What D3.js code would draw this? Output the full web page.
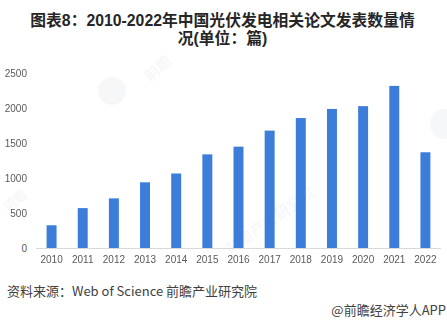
<!DOCTYPE html>
<html>
<head>
<meta charset="utf-8">
<script src="https://cdn.jsdelivr.net/npm/d3@7"></script>
<style>
  html, body { margin: 0; padding: 0; background: #fff; }
  svg { display: block; }
</style>
</head>
<body>
<div id="chart"></div>
<script>
// 2010-2022 中国光伏发电相关论文发表数量（篇）
const years = ["2010", "2011", "2012", "2013", "2014", "2015", "2016", "2017", "2018", "2019", "2020", "2021", "2022"];
const papers = [325, 571, 710, 940, 1066, 1340, 1450, 1680, 1860, 1990, 2030, 2320, 1370];
const yTicks = [0, 500, 1000, 1500, 2000, 2500];

const titleLines = ["图表8：2010-2022年中国光伏发电相关论文发表数量情", "况(单位：篇)"];
const sourceText = "资料来源：Web of Science 前瞻产业研究院";
const brandText = "@前瞻经济学人APP";

const W = 447, H = 324;
const plot = { left: 36, right: 441, top: 73.3, bottom: 248 };

const svg = d3.select("#chart").append("svg")
  .attr("width", W).attr("height", H)
  .style("font-family", "'Liberation Sans', Arial, 'Noto Sans CJK SC', sans-serif");

// faint background watermarks
const wm = svg.append("g").attr("opacity", 0.04).attr("fill", "#1a3f6b");
wm.append("circle").attr("cx", 112).attr("cy", 91).attr("r", 14);
wm.append("circle").attr("cx", 445).attr("cy", 124).attr("r", 15);
wm.append("text").attr("transform", "translate(150,82) rotate(-40)")
  .attr("font-size", 15).attr("font-weight", "bold").text("前瞻");
wm.append("text").attr("transform", "translate(230,255) rotate(-35)")
  .attr("font-size", 15).attr("font-weight", "bold").text("前瞻产业研究院");
wm.append("text").attr("transform", "translate(8,212) rotate(-40)")
  .attr("font-size", 13).attr("font-weight", "bold").text("前瞻");

// title (two lines)
svg.append("g").selectAll("text").data(titleLines).join("text")
  .attr("x", 222.5)
  .attr("y", (d, i) => 26 + i * 17.8)
  .attr("text-anchor", "middle")
  .attr("font-size", 15.8)
  .attr("font-weight", "bold")
  .attr("fill", "#262626")
  .style("font-family", "'Liberation Sans', Arial, 'Noto Sans CJK SC', sans-serif")
  .text(d => d);

const x = d3.scaleBand().domain(years).range([plot.left, plot.right]).paddingInner(0.68).paddingOuter(0.34);
const y = d3.scaleLinear().domain([0, 2500]).range([plot.bottom, plot.top]);

// y axis labels (no line)
const yAxis = svg.append("g").attr("transform", `translate(${plot.left - 9},0)`)
  .call(d3.axisLeft(y).tickValues(yTicks).tickSize(0).tickPadding(0).tickFormat(d3.format("d")));
yAxis.select(".domain").remove();
yAxis.selectAll("text").attr("font-size", 10).attr("fill", "#595959")
  .style("font-family", "'Liberation Sans', Arial, sans-serif");

// bars
svg.append("g").selectAll("rect").data(years).join("rect")
  .attr("x", d => x(d))
  .attr("width", x.bandwidth())
  .attr("y", (d, i) => y(papers[i]))
  .attr("height", (d, i) => y(0) - y(papers[i]))
  .attr("fill", "#3c7dd9");

// x axis
const xAxis = svg.append("g").attr("transform", `translate(0,${plot.bottom})`)
  .call(d3.axisBottom(x).tickSize(0).tickPadding(8));
xAxis.select(".domain").attr("stroke", "#d9d9d9").attr("d", `M${plot.left},0.5H${plot.right}`);
xAxis.selectAll("text").attr("font-size", 10).attr("fill", "#595959")
  .style("font-family", "'Liberation Sans', Arial, sans-serif");

// source and brand notes
svg.append("text").attr("x", 7).attr("y", 296)
  .attr("font-size", 13).attr("fill", "#404040")
  .style("font-family", "'Noto Sans CJK SC', 'Liberation Sans', sans-serif")
  .text(sourceText);
svg.append("text").attr("x", 446).attr("y", 315).attr("text-anchor", "end")
  .attr("font-size", 13).attr("fill", "#404040")
  .style("font-family", "'Noto Sans CJK SC', 'Liberation Sans', sans-serif")
  .text(brandText);
</script>
</body>
</html>
